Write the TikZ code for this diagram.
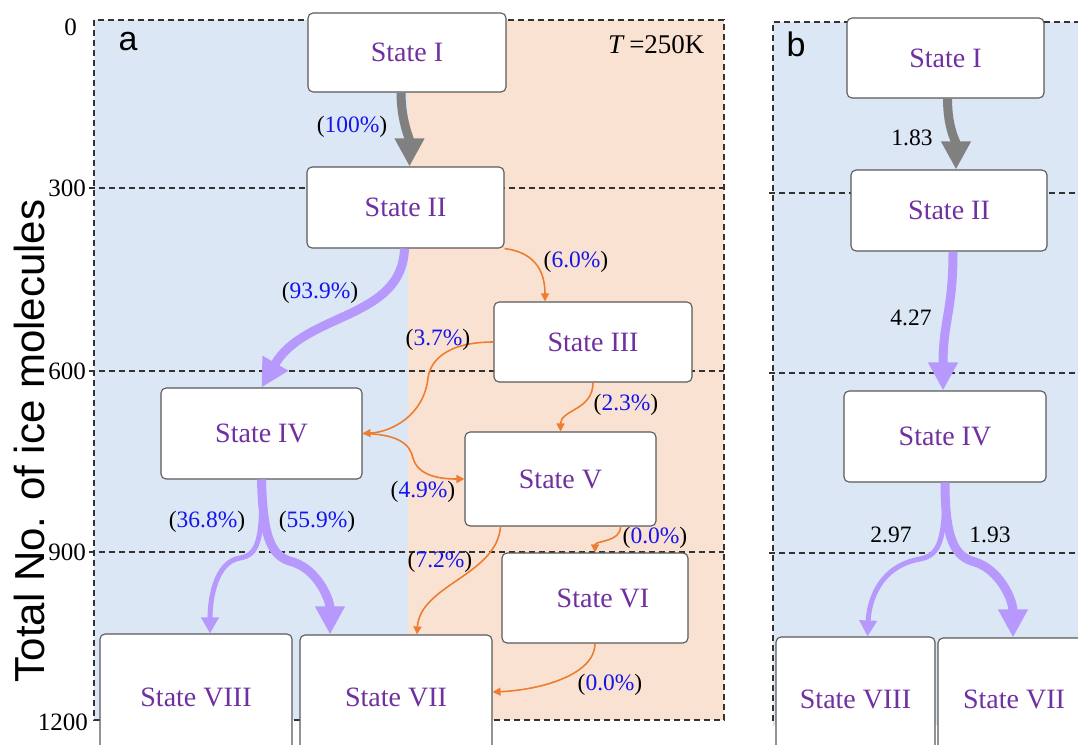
\documentclass[tikz,border=0pt]{standalone}
\usepackage{fontspec}
\setmainfont{Liberation Serif}
\setsansfont{Liberation Sans}
\usetikzlibrary{arrows.meta}
\definecolor{bgBlue}{RGB}{220,231,245}
\definecolor{bgPeach}{RGB}{250,226,210}
\definecolor{cState}{RGB}{112,48,160}
\definecolor{cPct}{RGB}{20,20,235}
\definecolor{cGray}{RGB}{128,128,128}
\definecolor{cLav}{RGB}{183,152,252}
\definecolor{cOra}{RGB}{237,125,49}
\definecolor{cDash}{RGB}{50,50,50}
\newcommand{\pct}[1]{(\textcolor{cPct}{#1\%})}

\begin{document}
\begin{tikzpicture}[
  x=1pt, y=-1pt,
  state/.style = {draw=black!65, line width=1.1pt, fill=white, rounded corners=5pt,
                  text=cState, inner sep=0pt, font=\rmfamily\fontsize{28}{32}\selectfont},
  grid/.style  = {draw=cDash, line width=1.3pt, dash pattern=on 6pt off 4pt},
  lab/.style   = {font=\rmfamily\fontsize{23.5}{26}\selectfont, inner sep=0pt},
  tick/.style  = {font=\rmfamily\fontsize{25}{28}\selectfont, anchor=east, inner sep=0pt},
  gflow/.style = {draw=cGray, line width=9pt, -{Triangle[length=28pt,width=28pt]}},
  pflow/.style = {draw=cLav, line width=9pt, -{Triangle[length=28pt,width=28pt]}},
  pthin/.style = {draw=cLav, line width=5pt, -{Triangle[length=16pt,width=17pt]}},
  oflow/.style = {draw=cOra, line width=1.6pt, -{Triangle[length=8pt,width=8pt]}}
]
\useasboundingbox (0,0) rectangle (1078,744);
\clip (0,0) rectangle (1078,744);

% ------------------------------------------------------------ i pannelli --
\fill[bgBlue]  (94,20) rectangle (408,720);
\fill[bgPeach] (408,20) rectangle (724,720);
\fill[bgBlue]  (773,22) rectangle (1090,725);
\draw[grid] (94,20) rectangle (724,720);
\foreach \yy in {188,371,552} \draw[grid] (89,\yy) -- (724,\yy);
\draw[grid] (1090,22) -- (773,22) -- (773,725);
\foreach \yy in {193,373,553} \draw[grid] (769,\yy) -- (1090,\yy);

\node[tick, anchor=east] (t0) at (77,27) {0};
\node[tick] (t300)  at (86,188) {300};
\node[tick] (t600)  at (86,371) {600};
\node[tick] (t900)  at (86,552) {900};
\node[tick] (t1200) at (88,722) {1200};
\node[rotate=90, font=\sffamily\fontsize{42}{46}\selectfont] (ylab) at (29,441) {Total No. of ice molecules};

\node[font=\sffamily\fontsize{34}{38}\selectfont] (pa) at (128,42) {a};
\node[font=\sffamily\fontsize{34}{38}\selectfont] (pb) at (796,44) {b};
\node[font=\rmfamily\fontsize{27}{30}\selectfont, anchor=east] (temp) at (708,45) {\textit{T}\,=250K};

% ------------------------------------------------------------ pannello a --
\node[state, minimum width=198pt, minimum height=79pt]  (s1) at (407,52.5)  {State I};
\node[state, minimum width=197pt, minimum height=81pt]  (s2) at (405.5,207.5) {State II};
\node[state, minimum width=198pt, minimum height=80pt]  (s3) at (593,342)   {State III};
\node[state, minimum width=201pt, minimum height=91pt]  (s4) at (261.5,433.5) {State IV};
\node[state, minimum width=191pt, minimum height=94pt]  (s5) at (560.5,479) {State V};
\node[state, minimum width=186pt, minimum height=90pt]  (s6) at (595,598)   {\hspace{16pt}State VI};
\node[state, minimum width=192pt, minimum height=124pt] (s7) at (396,697)   {State VII};
\node[state, minimum width=192pt, minimum height=126pt] (s8) at (196,697)   {State VIII};

\draw[gflow] ([xshift=-6pt]s1.south) .. controls +(0,28) and +(0,-28) .. ([xshift=4pt]s2.north);
\draw[pflow] ([xshift=-1pt]s2.south) .. controls (402,320) and (305,312) .. (s4.north);
\draw[oflow] (s2.south east) .. controls (532,252) and (545,268) .. ([xshift=-48pt]s3.north);
\draw[oflow] (s3.west) .. controls (445,342) and (430,362) .. (428,378)
             .. controls (424,415) and (392,432) .. (s4.east);
\draw[oflow] (s4.east) .. controls (398,434) and (410,444) .. (413,458)
             .. controls (418,476) and (440,479) .. (s5.west);
\draw[oflow] (s3.south) .. controls +(0,28) and +(0,-22) .. (s5.north);
\draw[oflow] ([xshift=60pt]s5.south) .. controls +(0,16) and +(0,-12) .. (s6.north);
\draw[oflow] ([xshift=-60pt]s5.south) .. controls (497,575) and (420,585) .. ([xshift=21pt]s7.north);
\draw[oflow] (s6.south) .. controls (595,675) and (540,690) .. ([yshift=5pt]s7.east);
% il ramo sottile a sinistra, quello spesso a destra
\draw[pthin] (s4.south) .. controls (263,540) and (258,555) .. (240,558)
             .. controls (215,562) and (210,600) .. ([xshift=14pt]s8.north);
\draw[pflow] (s4.south) .. controls (263,540) and (272,557) .. (293,562)
             .. controls (318,570) and (330,600) .. ([xshift=-66pt]s7.north);

\node[lab] (l12) at (352,127) {\pct{100}};
\node[lab] (l24) at (320,293) {\pct{93.9}};
\node[lab] (l23) at (576,262) {\pct{6.0}};
\node[lab] (l34) at (438,340) {\pct{3.7}};
\node[lab] (l35) at (626,405) {\pct{2.3}};
\node[lab] (l45) at (423,492) {\pct{4.9}};
\node[lab] (l56) at (655,538) {\pct{0.0}};
\node[lab] (l57) at (440,562) {\pct{7.2}};
\node[lab] (l67) at (610,685) {\pct{0.0}};
\node[lab] (l48) at (207,522) {\pct{36.8}};
\node[lab] (l47) at (317,522) {\pct{55.9}};

% ------------------------------------------------------------ pannello b --
\node[state, minimum width=197pt, minimum height=80pt]  (b1) at (945.5,58)  {State I};
\node[state, minimum width=196pt, minimum height=81pt]  (b2) at (949,210.5) {State II};
\node[state, minimum width=202pt, minimum height=91pt]  (b4) at (945,436.5) {State IV};
\node[state, minimum width=159pt, minimum height=124pt] (b8) at (855.5,699) {State VIII};
\node[state, minimum width=152pt, minimum height=122pt] (b7) at (1014,699)  {State VII};

\draw[gflow] ([xshift=2pt]b1.south) .. controls +(0,30) and +(0,-28) .. ([xshift=7pt]b2.north);
\draw[pflow] ([xshift=4pt]b2.south) .. controls +(0,60) and +(0,-70) .. ([xshift=-2pt]b4.north);
\draw[pthin] (b4.south) .. controls (945,540) and (940,555) .. (920,559)
             .. controls (880,566) and (869,600) .. ([xshift=12pt]b8.north);
\draw[pflow] (b4.south) .. controls (945,540) and (955,557) .. (975,562)
             .. controls (1000,570) and (1013,600) .. ([xshift=-1pt]b7.north);

\node[lab] (m12) at (912,138) {1.83};
\node[lab] (m24) at (911,318) {4.27};
\node[lab] (m48) at (891,535) {2.97};
\node[lab] (m47) at (990,535) {1.93};

\end{tikzpicture}
\end{document}
